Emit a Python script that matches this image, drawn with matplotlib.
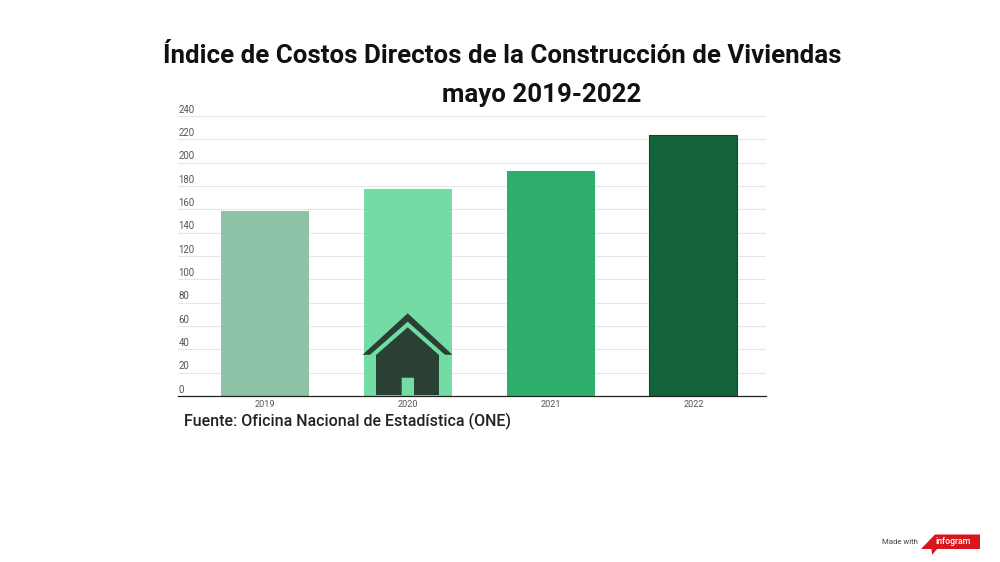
import matplotlib
matplotlib.use("Agg")
import matplotlib.pyplot as plt
from matplotlib.patches import Polygon

years = ["2019", "2020", "2021", "2022"]
values = [158.7, 177.5, 193, 223.7]
colors = ["#8cc3a6", "#72dca4", "#2eae6b", "#13633a"]
ticks = list(range(0, 241, 20))

W, H = 1000, 562
plt.rcParams['font.family'] = 'Roboto'
fig = plt.figure(figsize=(W/100, H/100), dpi=100, facecolor='white')

def px(x, y):
    return x/W, 1-y/H

L, R, T, B = 178, 766, 116, 396
ax = fig.add_axes([L/W, 1-B/H, (R-L)/W, (B-T)/H])
x = list(range(len(years)))
ax.bar(x, values, width=0.615, color=colors, linewidth=0.0, zorder=3)
ax.bar([3], [values[3]], width=0.615, color='none', edgecolor='#0c4a2a', linewidth=0.8, zorder=3)
# bar centres are 143 px apart: 265, 408, 551, 693
ax.set_xlim((L-265)/142.8, (R-265)/142.8)
ax.set_ylim(0, 240)
ax.set_yticks(ticks)
ax.set_yticklabels([])
ax.set_xticks(x)
ax.set_xticklabels(years, fontsize=6.6, color='#555555')
ax.tick_params(axis='both', length=0)
ax.tick_params(axis='x', pad=3)
ax.grid(axis='y', color='#e6e6e6', linewidth=0.8, zorder=0)
for s in ['top', 'left', 'right']:
    ax.spines[s].set_visible(False)
ax.spines['bottom'].set_color('#222222')
ax.spines['bottom'].set_linewidth(0.9)
ax.spines['bottom'].set_zorder(5)
ax.set_axisbelow(True)

# y labels sit above each gridline at the left
for t in ticks:
    ax.annotate(str(t), xy=(0, t), xycoords=('axes fraction', 'data'),
                xytext=(0.3, 0.9), textcoords='offset points',
                fontsize=6.9, color='#555555', ha='left', va='bottom', zorder=6)

# titles
fig.text(*px(502.5, 56), "Índice de Costos Directos de la Construcción de Viviendas",
         fontsize=18.65, fontweight='bold', color='#111111', ha='center', va='center')
fig.text(*px(542, 95), "mayo 2019-2022",
         fontsize=18.65, fontweight='bold', color='#111111', ha='center', va='center')
fig.text(*px(184, 421.5), "Fuente: Oficina Nacional de Estadística (ONE)",
         fontsize=11.5, fontweight='medium', color='#222222', ha='left', va='center')

# house icon
house = '#2a4034'
roof = [(407.7, 313.3), (452.5, 354.8), (445, 354.8), (407.7, 321.7), (370, 354.8), (362.5, 354.8)]
body = [(407.7, 327.3), (439, 355), (439, 395), (414, 395), (414, 377.7), (401.7, 377.7),
        (401.7, 395), (376, 395), (376, 355)]
for pts in (roof, body):
    fig.add_artist(Polygon([px(*p) for p in pts], closed=True, facecolor=house,
                           edgecolor='none', transform=fig.transFigure, zorder=8))

# Made with infogram badge
badge = [(935, 534.5), (980, 534.5), (980, 549), (937, 549), (932, 555), (931.5, 549), (921, 549)]
fig.add_artist(Polygon([px(*p) for p in badge], closed=True, facecolor='#d9161c',
                       edgecolor='none', transform=fig.transFigure, zorder=8))
fig.text(*px(900, 542.5), "Made with", fontsize=5.6, color='#444444', ha='center', va='center')
fig.text(*px(953.5, 542), "infogram", fontsize=6.3, fontweight='medium', color='white',
         ha='center', va='center', zorder=9)

fig.savefig("out.png", dpi=100, facecolor='white')
